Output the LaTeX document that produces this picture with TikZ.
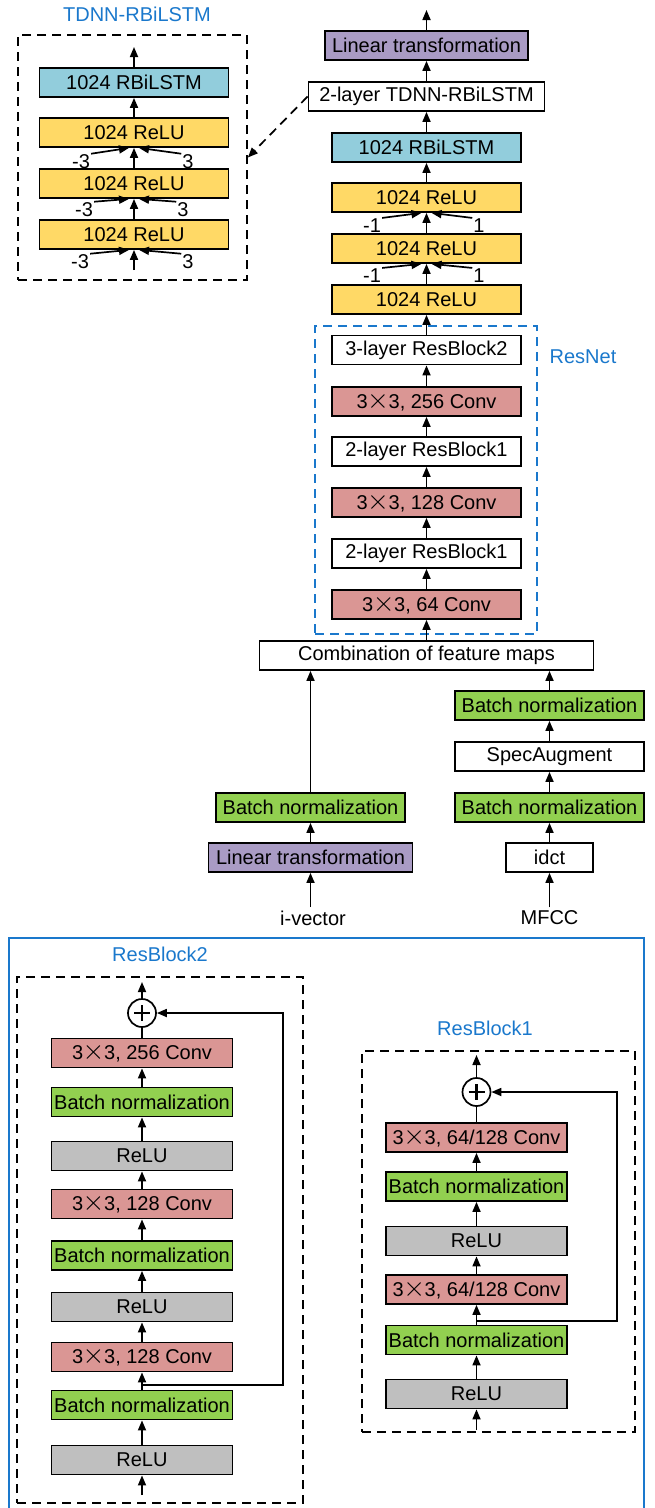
\documentclass[tikz,border=0pt]{standalone}
\usepackage{fontspec}
\setmainfont{Liberation Sans}
\usepackage{tikz}
\usetikzlibrary{arrows.meta,positioning,calc}
\definecolor{relugold}{HTML}{FFD966}
\definecolor{lstmblue}{HTML}{92CDDC}
\definecolor{linpurple}{HTML}{A99BC4}
\definecolor{convred}{HTML}{DA9694}
\definecolor{bngreen}{HTML}{92D050}
\definecolor{relugray}{HTML}{BFBFBF}
\definecolor{netblue}{HTML}{1A78CC}
\newcommand{\tms}{\makebox[1.05em]{\scalebox{1.35}{$\times$}}}

\begin{document}
\begin{tikzpicture}[x=1pt, y=-1pt, font=\fontsize{20}{24}\selectfont,
    layer/.style={draw=black, line width=1.8pt, minimum width=189pt, minimum height=29pt, inner sep=0pt},
    rblayer/.style={layer, minimum width=181pt},
    arr/.style={line width=1.7pt, -{Triangle[length=10pt,width=8pt]}},
    dashbox/.style={draw=black, line width=1.7pt, dash pattern=on 9pt off 6pt, inner sep=0pt},
    plusnode/.style={circle, draw=black, fill=white, line width=1.7pt, minimum size=28pt, inner sep=0pt},
    offs/.style={inner sep=1pt}]
    \useasboundingbox (0,0) rectangle (654,1508);

    % frames and titles
    \node[dashbox, minimum width=229pt, minimum height=245pt] (tdnnframe) at (132.5,157.5) {};
    \node[text=netblue] (tdnntitle) at (137,14) {TDNN-RBiLSTM};
    \node[dashbox, draw=netblue, minimum width=222pt, minimum height=308pt] (resnetframe) at (426,480) {};
    \node[text=netblue] (resnettitle) at (583,357) {ResNet};
    \draw[netblue, line width=1.7pt] (9,938) rectangle (644,1520);
    \node[dashbox, minimum width=286pt, minimum height=526pt] (rbtwoframe) at (160,1240) {};
    \node[text=netblue] (rbtwotitle) at (160,954) {ResBlock2};
    \node[dashbox, minimum width=273pt, minimum height=381pt] (rboneframe) at (498.5,1241.5) {};
    \node[text=netblue] (rbonetitle) at (485,1028) {ResBlock1};

    % TDNN-RBiLSTM inset
    \node[layer, fill=lstmblue] (ilstm) at (134,82.5) {1024 RBiLSTM};
    \node[layer, fill=relugold] (irelua) at (134,132.5) {1024 ReLU};
    \node[layer, fill=relugold] (irelub) at (134,183.5) {1024 ReLU};
    \node[layer, fill=relugold] (ireluc) at (134,234.5) {1024 ReLU};
    \coordinate (insetout) at (134,47);
    \coordinate (insetin) at (134,270);
    \draw[arr] (ilstm) -- (insetout);
    \draw[arr] (irelua) -- (ilstm);
    \draw[arr] (irelub) -- (irelua);
    \draw[arr] (ireluc) -- (irelub);
    \draw[arr] (insetin) -- (ireluc);
    \node[offs] (ila) at (81,162) {-3};
    \node[offs] (ira) at (188,162) {3};
    \node[offs] (ilb) at (84,210) {-3};
    \node[offs] (irb) at (183,210) {3};
    \node[offs] (ilc) at (80,262) {-3};
    \node[offs] (irc) at (188,262) {3};
    \draw[arr] (ila.north east) -- ([xshift=-5pt]irelua.south);
    \draw[arr] (ira.north west) -- ([xshift=5pt]irelua.south);
    \draw[arr] (ilb.north east) -- ([xshift=-5pt]irelub.south);
    \draw[arr] (irb.north west) -- ([xshift=5pt]irelub.south);
    \draw[arr] (ilc.north east) -- ([xshift=-5pt]ireluc.south);
    \draw[arr] (irc.north west) -- ([xshift=5pt]ireluc.south);

    % main column
    \node[layer, fill=linpurple, minimum width=203pt] (lintr) at (426.5,45.5) {Linear transformation};
    \node[layer, fill=white, minimum width=236pt] (tdnn) at (426.5,96.5) {2-layer TDNN-RBiLSTM};
    \node[layer, fill=lstmblue] (lstm) at (426.5,147.5) {1024 RBiLSTM};
    \node[layer, fill=relugold] (relua) at (426.5,197.5) {1024 ReLU};
    \node[layer, fill=relugold] (relub) at (426.5,248.5) {1024 ReLU};
    \node[layer, fill=relugold] (reluc) at (426.5,299.5) {1024 ReLU};
    \node[layer, fill=white] (rbtwo) at (426.5,350) {3-layer ResBlock2};
    \node[layer, fill=convred] (convc) at (426.5,401.5) {3\tms 3, 256 Conv};
    \node[layer, fill=white] (rbonea) at (426.5,451.5) {2-layer ResBlock1};
    \node[layer, fill=convred] (convb) at (426.5,502.5) {3\tms 3, 128 Conv};
    \node[layer, fill=white] (rboneb) at (426.5,553.5) {2-layer ResBlock1};
    \node[layer, fill=convred] (conva) at (426.5,604.5) {3\tms 3, 64 Conv};
    \node[layer, fill=white, minimum width=334pt] (comb) at (426.5,655.5) {Combination of feature maps};
    \coordinate (mainout) at (426.5,10);
    \draw[arr] (lintr) -- (mainout);
    \draw[arr] (tdnn) -- (lintr);
    \draw[arr] (lstm) -- (tdnn);
    \draw[arr] (relua) -- (lstm);
    \draw[arr] (relub) -- (relua);
    \draw[arr] (reluc) -- (relub);
    \draw[arr] (rbtwo) -- (reluc);
    \draw[arr] (convc) -- (rbtwo);
    \draw[arr] (rbonea) -- (convc);
    \draw[arr] (convb) -- (rbonea);
    \draw[arr] (rboneb) -- (convb);
    \draw[arr] (conva) -- (rboneb);
    \draw[arr] (comb) -- (conva);
    \node[offs] (mla) at (372,226) {-1};
    \node[offs] (mra) at (479,226) {1};
    \node[offs] (mlb) at (372,276) {-1};
    \node[offs] (mrb) at (479,276) {1};
    \draw[arr] (mla.north east) -- ([xshift=-5pt]relua.south);
    \draw[arr] (mra.north west) -- ([xshift=5pt]relua.south);
    \draw[arr] (mlb.north east) -- ([xshift=-5pt]relub.south);
    \draw[arr] (mrb.north west) -- ([xshift=5pt]relub.south);
    \draw[arr, dash pattern=on 9pt off 6pt] (tdnn.west) -- (tdnnframe.east);

    % inputs
    \node[layer, fill=linpurple, minimum width=204pt] (ivlin) at (310.5,857.5) {Linear transformation};
    \node[layer, fill=bngreen] (ivbn) at (310.5,807.5) {Batch normalization};
    \node (ivec) at (313,918) {i-vector};
    \draw[arr] (ivlin.south |- ivec.north) -- (ivlin);
    \draw[arr] (ivlin) -- (ivbn);
    \draw[arr] (ivbn) -- (ivbn |- comb.south);
    \node[layer, fill=white, minimum width=87pt] (idct) at (549.5,857.5) {idct};
    \node[layer, fill=bngreen] (mbna) at (549.5,807.5) {Batch normalization};
    \node[layer, fill=white] (spec) at (549.5,756.5) {SpecAugment};
    \node[layer, fill=bngreen] (mbnb) at (549.5,705.5) {Batch normalization};
    \node (mfcc) at (549.5,918) {MFCC};
    \draw[arr] (mfcc) -- (idct);
    \draw[arr] (idct) -- (mbna);
    \draw[arr] (mbna) -- (spec);
    \draw[arr] (spec) -- (mbnb);
    \draw[arr] (mbnb) -- (mbnb |- comb.south);

    % ResBlock2
    \node[plusnode] (plusb) at (142,1013) {};
    \draw[line width=2.8pt] ([yshift=8pt]plusb.center) -- ([yshift=-8pt]plusb.center)
        ([xshift=-8pt]plusb.center) -- ([xshift=8pt]plusb.center);
    \node[rblayer, fill=convred] (bconvc) at (142,1053) {3\tms 3, 256 Conv};
    \node[rblayer, fill=bngreen] (bbnc) at (142,1102) {Batch normalization};
    \node[rblayer, fill=relugray] (breluc) at (142,1156) {ReLU};
    \node[rblayer, fill=convred] (bconvb) at (142,1204) {3\tms 3, 128 Conv};
    \node[rblayer, fill=bngreen] (bbnb) at (142,1255.5) {Batch normalization};
    \node[rblayer, fill=relugray] (brelub) at (142,1307) {ReLU};
    \node[rblayer, fill=convred] (bconva) at (142,1357) {3\tms 3, 128 Conv};
    \node[rblayer, fill=bngreen] (bbna) at (142,1405) {Batch normalization};
    \node[rblayer, fill=relugray] (brelua) at (142,1460) {ReLU};
    \coordinate (bout) at (142,982);
    \coordinate (bin) at (142,1495);
    \coordinate (bsplit) at (142,1385);
    \draw[arr] (plusb) -- (bout);
    \draw[line width=1.7pt] (bconvc) -- (plusb);
    \draw[arr] (bbnc) -- (bconvc);
    \draw[arr] (breluc) -- (bbnc);
    \draw[arr] (bconvb) -- (breluc);
    \draw[arr] (bbnb) -- (bconvb);
    \draw[arr] (brelub) -- (bbnb);
    \draw[arr] (bconva) -- (brelub);
    \draw[arr] (bbna) -- (bconva);
    \draw[arr] (brelua) -- (bbna);
    \draw[arr] (bin) -- (brelua);
    \draw[arr] (bsplit) -- ++(141,0) |- (plusb.east);

    % ResBlock1
    \node[plusnode] (plusa) at (476.5,1092) {};
    \draw[line width=2.8pt] ([yshift=8pt]plusa.center) -- ([yshift=-8pt]plusa.center)
        ([xshift=-8pt]plusa.center) -- ([xshift=8pt]plusa.center);
    \node[rblayer, fill=convred] (aconvb) at (476.5,1137.5) {3\tms 3, 64/128 Conv};
    \node[rblayer, fill=bngreen] (abnb) at (476.5,1186.5) {Batch normalization};
    \node[rblayer, fill=relugray] (arelub) at (476.5,1241) {ReLU};
    \node[rblayer, fill=convred] (aconva) at (476.5,1289.5) {3\tms 3, 64/128 Conv};
    \node[rblayer, fill=bngreen] (abna) at (476.5,1340) {Batch normalization};
    \node[rblayer, fill=relugray] (arelua) at (476.5,1394) {ReLU};
    \coordinate (aout) at (476.5,1055);
    \coordinate (ain) at (476.5,1430);
    \coordinate (asplit) at (476.5,1321);
    \draw[arr] (plusa) -- (aout);
    \draw[line width=1.7pt] (aconvb) -- (plusa);
    \draw[arr] (abnb) -- (aconvb);
    \draw[arr] (arelub) -- (abnb);
    \draw[arr] (aconva) -- (arelub);
    \draw[arr] (abna) -- (aconva);
    \draw[arr] (arelua) -- (abna);
    \draw[arr] (ain) -- (arelua);
    \draw[arr] (asplit) -- ++(140.5,0) |- (plusa.east);
\end{tikzpicture}
\end{document}
